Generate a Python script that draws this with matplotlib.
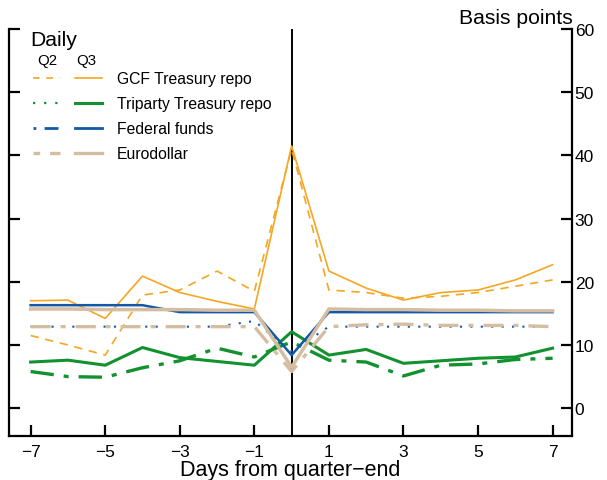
import matplotlib.pyplot as plt
from matplotlib.lines import Line2D
from matplotlib.legend_handler import HandlerTuple

plt.rcParams['font.family'] = ['Liberation Sans', 'DejaVu Sans']

# Days relative to quarter-end
days = list(range(-7, 8))

# Basis points, Q2 (broken styles) and Q3 (solid)
gcf_q2 = [11.5, 10.0, 8.4, 17.9, 18.7, 21.7, 18.5, 41.0, 18.7, 18.3, 17.4, 17.7, 18.3, 19.3, 20.3]
gcf_q3 = [17.0, 17.1, 14.2, 20.9, 18.3, 16.9, 15.7, 41.5, 21.7, 19.0, 17.1, 18.3, 18.7, 20.3, 22.7]
tri_q2 = [5.8, 5.0, 4.9, 6.4, 7.5, 9.5, 8.1, 10.5, 7.6, 7.3, 5.1, 6.8, 7.0, 7.7, 7.9]
tri_q3 = [7.3, 7.6, 6.8, 9.6, 8.0, 7.4, 6.8, 12.1, 8.4, 9.3, 7.1, 7.5, 7.9, 8.1, 9.5]
ff_q2 = [12.9, 12.9, 12.9, 12.9, 12.9, 12.9, 13.8, 9.0, 12.9, 12.9, 12.9, 12.9, 12.9, 12.9, 12.9]
ff_q3 = [16.3, 16.3, 16.3, 16.3, 15.2, 15.2, 15.2, 8.4, 15.2, 15.2, 15.2, 15.2, 15.2, 15.2, 15.2]
euro_q2 = [12.9, 12.9, 12.9, 12.9, 12.9, 12.9, 12.9, 5.8, 12.9, 13.2, 13.3, 13.1, 13.1, 13.1, 12.9]
euro_q3 = [15.7, 15.7, 15.6, 15.6, 15.6, 15.5, 15.5, 6.5, 15.7, 15.6, 15.6, 15.5, 15.5, 15.4, 15.4]

series = ['GCF Treasury repo', 'Triparty Treasury repo', 'Federal funds', 'Eurodollar']

orange = '#F5A623'
green = '#12912E'
blue = '#1358A8'
tan = '#D4BDA0'

fig = plt.figure(figsize=(6.07, 4.81), dpi=100)
ax = fig.add_axes([9 / 607, 1 - 437 / 481, 563 / 607, 407 / 481])

ax.axvline(0, color='black', lw=1.4, zorder=1)

ax.plot(days, gcf_q2, color=orange, lw=1.2, ls=(0, (5, 4)))
ax.plot(days, gcf_q3, color=orange, lw=1.2)
ax.plot(days, tri_q2, color=green, lw=2.4, ls=(0, (7, 3, 1.5, 3)))
ax.plot(days, tri_q3, color=green, lw=2.2)
ax.plot(days, ff_q2, color=blue, lw=1.5, ls=(0, (1, 4)))
ax.plot(days, ff_q3, color=blue, lw=1.8)
ax.plot(days, euro_q2, color=tan, lw=2.4, ls=(0, (6, 3, 1.5, 3)))
ax.plot(days, euro_q3, color=tan, lw=2.5)

ax.set_xlim(-7.58, 7.52)
ax.set_ylim(-4.4, 60)
ax.set_xticks([-7, -5, -3, -1, 1, 3, 5, 7])
ax.set_xticklabels(['\u22127', '\u22125', '\u22123', '\u22121', '1', '3', '5', '7'])
ax.set_yticks(range(0, 61, 10))

ax.spines['top'].set_visible(False)
for s in ['left', 'right', 'bottom']:
    ax.spines[s].set_linewidth(1.6)
ax.tick_params(axis='both', direction='in', length=8, width=1.6, labelsize=12.5)
ax.tick_params(axis='y', left=True, right=True, labelleft=False, labelright=True, pad=2)
ax.tick_params(axis='x', pad=6)

ax.set_xlabel('Days from quarter\u2212end', fontsize=15.5, labelpad=0)
fig.text(573 / 607, 1 - 24 / 481, 'Basis points', ha='right', va='baseline', fontsize=15.2)

fig.text(30 / 607, 1 - 46 / 481, 'Daily', fontsize=15.2, va='baseline')
fig.text(37 / 607, 1 - 65 / 481, 'Q2', fontsize=10.8, va='baseline')
fig.text(76 / 607, 1 - 65 / 481, 'Q3', fontsize=10.8, va='baseline')

# legend keys as drawn in the original key box
keys = [
    (Line2D([], [], color=orange, lw=1.2, ls=(0, (4, 4))), Line2D([], [], color=orange, lw=1.2)),
    (Line2D([], [], color=green, lw=1.6, ls=(0, (1, 4))), Line2D([], [], color=green, lw=2.2)),
    (Line2D([], [], color=blue, lw=2.0, ls=(0, (1, 3, 5, 3))), Line2D([], [], color=blue, lw=2.0)),
    (Line2D([], [], color=tan, lw=2.4, ls=(0, (2, 3, 7, 3))), Line2D([], [], color=tan, lw=2.4)),
]
fig.legend(keys, series,
           handler_map={tuple: HandlerTuple(ndivide=None, pad=0.9)},
           loc='upper left', bbox_to_anchor=(33 / 607, 1 - 72 / 481),
           frameon=False, fontsize=11.3, handlelength=4.4, handletextpad=0.95,
           labelspacing=0.64, borderpad=0, borderaxespad=0)

fig.savefig('out.png', dpi=100)
